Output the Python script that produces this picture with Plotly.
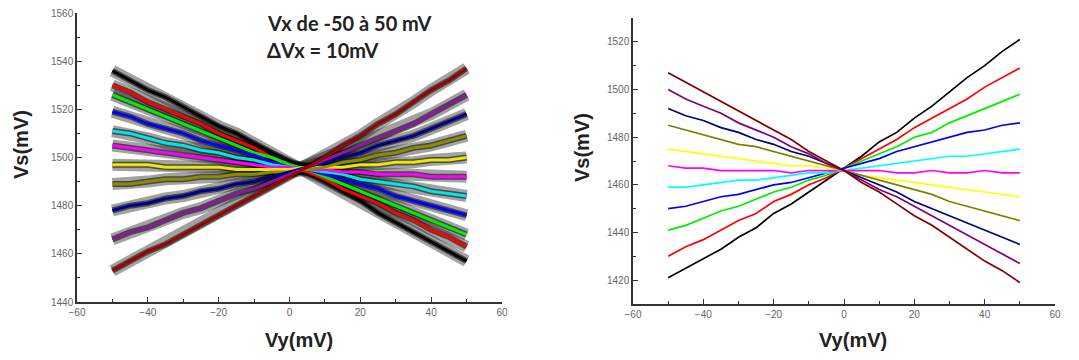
import plotly.graph_objects as go

# ---------------- data ----------------
vy = [-50, -45, -40, -35, -30, -25, -20, -15, -10, -5, 0, 5, 10, 15, 20, 25, 30, 35, 40, 45, 50]

series_names = ["black", "red", "green", "blue", "cyan", "magenta", "yellow", "olive", "navy", "purple", "maroon"]

left_colors = ["#000000", "#ff0000", "#00ee00", "#0000ff", "#00e5e5", "#ff00ff", "#e8e800", "#8c8c00", "#000090", "#8a1a9a", "#a00000"]
right_colors = ["#000000", "#ff0000", "#00ee00", "#0000ff", "#00ffff", "#ff00ff", "#ffff00", "#808000", "#000080", "#800080", "#800000"]

left_black = [1536, 1532, 1528, 1525, 1521, 1517, 1513, 1510, 1506, 1502, 1498, 1494, 1490, 1486, 1482, 1477, 1473, 1469, 1465, 1461, 1457]
left_red = [1530, 1527, 1523, 1520, 1517, 1514, 1510, 1507, 1504, 1500, 1497, 1494, 1491, 1487, 1484, 1481, 1477, 1474, 1470, 1467, 1463]
left_green = [1526, 1523, 1520, 1517, 1514, 1511, 1508, 1505, 1502, 1500, 1497, 1495, 1492, 1489, 1486, 1483, 1480, 1477, 1474, 1471, 1468]
left_blue = [1519, 1517, 1514, 1512, 1510, 1507, 1505, 1503, 1501, 1498, 1496, 1495, 1493, 1491, 1489, 1487, 1484, 1482, 1480, 1478, 1476]
left_cyan = [1511, 1510, 1508, 1506, 1505, 1503, 1502, 1500, 1499, 1497, 1496, 1495, 1494, 1493, 1491, 1490, 1489, 1488, 1486, 1485, 1484]
left_magenta = [1505, 1504, 1503, 1502, 1501, 1500, 1499, 1498, 1497, 1496, 1496, 1495, 1495, 1494, 1494, 1493, 1493, 1493, 1492, 1492, 1492]
left_yellow = [1497, 1497, 1497, 1496, 1496, 1496, 1496, 1495, 1495, 1495, 1495, 1496, 1496, 1496, 1497, 1497, 1498, 1498, 1499, 1499, 1500]
left_olive = [1489, 1489, 1490, 1491, 1491, 1492, 1492, 1493, 1493, 1494, 1494, 1495, 1496, 1498, 1499, 1501, 1502, 1504, 1505, 1507, 1509]
left_navy = [1478, 1480, 1481, 1483, 1484, 1486, 1487, 1489, 1490, 1492, 1494, 1496, 1498, 1500, 1502, 1505, 1507, 1509, 1512, 1515, 1518]
left_purple = [1466, 1469, 1471, 1474, 1477, 1479, 1482, 1485, 1487, 1490, 1493, 1496, 1499, 1502, 1505, 1508, 1511, 1514, 1518, 1522, 1526]
left_maroon = [1453, 1457, 1461, 1464, 1468, 1472, 1476, 1480, 1484, 1488, 1492, 1496, 1500, 1505, 1509, 1514, 1518, 1523, 1528, 1532, 1537]

right_black = [1421, 1425, 1429, 1433, 1438, 1442, 1448, 1452, 1457, 1462, 1467, 1472, 1478, 1482, 1488, 1493, 1499, 1505, 1510, 1516, 1521]
right_red = [1430, 1434, 1437, 1441, 1445, 1448, 1453, 1456, 1460, 1463, 1467, 1471, 1475, 1479, 1484, 1488, 1492, 1496, 1501, 1505, 1509]
right_green = [1441, 1443, 1446, 1449, 1451, 1454, 1457, 1459, 1462, 1464, 1467, 1470, 1473, 1476, 1480, 1482, 1486, 1489, 1492, 1495, 1498]
right_blue = [1450, 1451, 1453, 1455, 1456, 1458, 1460, 1461, 1463, 1465, 1467, 1469, 1471, 1474, 1476, 1478, 1480, 1482, 1483, 1485, 1486]
right_cyan = [1459, 1459, 1460, 1461, 1462, 1462, 1463, 1464, 1465, 1465, 1466, 1467, 1468, 1469, 1470, 1471, 1472, 1472, 1473, 1474, 1475]
right_magenta = [1468, 1467, 1467, 1466, 1466, 1466, 1466, 1465, 1466, 1466, 1466, 1466, 1466, 1465, 1465, 1466, 1465, 1465, 1466, 1465, 1465]
right_yellow = [1475, 1474, 1473, 1472, 1471, 1470, 1469, 1468, 1468, 1467, 1466, 1464, 1463, 1462, 1461, 1460, 1459, 1458, 1457, 1456, 1455]
right_olive = [1485, 1483, 1481, 1479, 1477, 1476, 1474, 1472, 1470, 1468, 1466, 1464, 1462, 1460, 1458, 1456, 1453, 1451, 1449, 1447, 1445]
right_navy = [1492, 1489, 1487, 1484, 1482, 1479, 1477, 1474, 1472, 1469, 1466, 1463, 1460, 1457, 1453, 1450, 1447, 1444, 1441, 1438, 1435]
right_purple = [1500, 1496, 1493, 1490, 1486, 1483, 1480, 1476, 1473, 1469, 1466, 1462, 1458, 1455, 1451, 1447, 1443, 1439, 1435, 1431, 1427]
right_maroon = [1507, 1503, 1499, 1495, 1491, 1487, 1483, 1479, 1474, 1470, 1466, 1461, 1457, 1452, 1447, 1443, 1438, 1433, 1428, 1424, 1419]

left_series = [left_black, left_red, left_green, left_blue, left_cyan, left_magenta,
               left_yellow, left_olive, left_navy, left_purple, left_maroon]
right_series = [right_black, right_red, right_green, right_blue, right_cyan, right_magenta,
                right_yellow, right_olive, right_navy, right_purple, right_maroon]

x_ticks = [-60, -40, -20, 0, 20, 40, 60]
left_y_ticks = [1440, 1460, 1480, 1500, 1520, 1540, 1560]
right_y_ticks = [1420, 1440, 1460, 1480, 1500, 1520]

# ---------------- figure ----------------
fig = go.Figure()

# noisy raw traces (left) drawn as soft black bands
for ys in left_series:
    fig.add_trace(go.Scatter(x=vy, y=ys, mode="lines", xaxis="x", yaxis="y",
                             line=dict(color="rgba(10,10,10,0.38)", width=12),
                             hoverinfo="skip", showlegend=False))
for ys in left_series:
    fig.add_trace(go.Scatter(x=vy, y=ys, mode="lines", xaxis="x", yaxis="y",
                             line=dict(color="rgba(0,0,0,0.55)", width=6),
                             hoverinfo="skip", showlegend=False))
for name, ys, c in zip(series_names, left_series, left_colors):
    fig.add_trace(go.Scatter(x=vy, y=ys, mode="lines", name=name, xaxis="x", yaxis="y",
                             line=dict(color=c, width=3), showlegend=False))
for name, ys, c in zip(series_names, right_series, right_colors):
    fig.add_trace(go.Scatter(x=vy, y=ys, mode="lines", name=name, xaxis="x2", yaxis="y2",
                             line=dict(color=c, width=1.7), showlegend=False))

minor = dict(ticks="inside", ticklen=3, tickwidth=1, tickcolor="#333333", dtick=10)
axis_common = dict(showline=True, linecolor="#333333", linewidth=1.5, showgrid=False,
                   zeroline=False, ticks="inside", ticklen=5, tickwidth=1.2, tickcolor="#333333",
                   automargin=False,
                   tickfont=dict(family="Arial, Liberation Sans, sans-serif", size=10, color="#666666"),
                   minor=minor)

W, H = 1079, 360
fig.update_layout(
    width=W, height=H,
    margin=dict(l=0, r=0, t=0, b=0, autoexpand=False),
    paper_bgcolor="white", plot_bgcolor="white",
    xaxis=dict(domain=[77 / W, 502 / W], range=[-60, 60], tickvals=x_ticks, anchor="y", **axis_common),
    yaxis=dict(domain=[1 - 302 / H, 1 - 13 / H], range=[1440, 1560], tickvals=left_y_ticks, anchor="x", **axis_common),
    xaxis2=dict(domain=[633 / W, 1055 / W], range=[-60, 60], tickvals=x_ticks, anchor="y2", **axis_common),
    yaxis2=dict(domain=[1 - 304 / H, 1 - 18 / H], range=[1410, 1530], tickvals=right_y_ticks, anchor="x2", **axis_common),
)

title_font = dict(family="Arial, Liberation Sans, sans-serif", size=20, color="#222222")
annots = [
    dict(text="<b>Vy(mV)</b>", x=299 / W, y=1 - 340 / H, xref="paper", yref="paper",
         showarrow=False, font=title_font, xanchor="center", yanchor="middle"),
    dict(text="<b>Vy(mV)</b>", x=853 / W, y=1 - 340 / H, xref="paper", yref="paper",
         showarrow=False, font=title_font, xanchor="center", yanchor="middle"),
    dict(text="<b>Vs(mV)</b>", x=21 / W, y=1 - 145 / H, xref="paper", yref="paper", textangle=-90,
         showarrow=False, font=title_font, xanchor="center", yanchor="middle"),
    dict(text="<b>Vs(mV)</b>", x=582 / W, y=1 - 148 / H, xref="paper", yref="paper", textangle=-90,
         showarrow=False, font=title_font, xanchor="center", yanchor="middle"),
    dict(text="<b>Vx de -50 à 50 mV</b>", x=265 / W, y=1 - 23 / H, xref="paper", yref="paper",
         showarrow=False, font=dict(family="Lato, Arial, sans-serif", size=20, color="#222222"),
         xanchor="left", yanchor="middle"),
    dict(text="<b>ΔVx = 10mV</b>", x=265 / W, y=1 - 50 / H, xref="paper", yref="paper",
         showarrow=False, font=dict(family="Lato, Arial, sans-serif", size=20, color="#222222"),
         xanchor="left", yanchor="middle"),
]
fig.update_layout(annotations=annots)

fig.write_html("out.html",
               config={"displayModeBar": False},
               post_script="document.body.style.margin='0';document.body.style.overflow='hidden';")
